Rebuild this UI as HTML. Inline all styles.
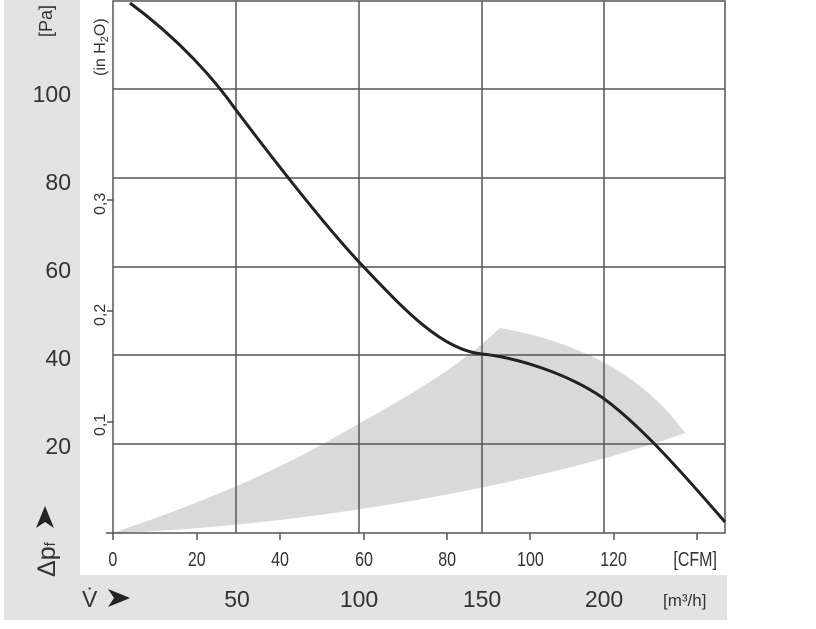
<!DOCTYPE html>
<html><head><style>
body{margin:0;background:#fff;}
svg text{font-family:"Liberation Sans",sans-serif;fill:#333;}
</style></head><body>
<svg width="816" height="624" viewBox="0 0 816 624">
<rect x="4" y="0" width="76" height="575" fill="#e3e3e3"/>
<rect x="4" y="575" width="723" height="45" fill="#e3e3e3"/>
<path d="M113,533 C180,510 260,480 330,440 C400,400 450,375 500,328 C570,340 640,370 685,433 C560,478 330,525 113,533 Z" fill="#d9d9d9"/>
<g stroke="#555" stroke-width="1.5" fill="none">
<path d="M236,1V533M359,1V533M482,1V533M604,1V533"/>
<path d="M113,89H725M113,178H725M113,267H725M113,355H725M113,444H725"/>
<rect x="113" y="1" width="612" height="532"/>
<path d="M106,533H113M113,533V540M197,533V540M280,533V540M364,533V540M447,533V540M530,533V540M614,533V540M697,533V540M107,200H113M107,311H113M107,422H113"/>
</g>
<path d="M130,3 C180,40 215,80 236,110 C270,155 320,220 359,262 C400,305 440,350 482,354 C520,358 570,375 603,398 C640,425 680,470 725,522" fill="none" stroke="#222" stroke-width="3"/>
<g font-size="23" text-anchor="end">
<text x="71" y="102">100</text><text x="71" y="190">80</text><text x="71" y="278">60</text><text x="71" y="366">40</text><text x="71" y="454">20</text>
</g>
<g font-size="20" text-anchor="middle" transform="scale(0.8,1)">
<text x="141" y="566">0</text><text x="246" y="566">20</text><text x="350" y="566">40</text><text x="455" y="566">60</text><text x="559" y="566">80</text><text x="663" y="566">100</text><text x="767" y="566">120</text><text x="869" y="566">[CFM]</text>
</g>
<g font-size="23" text-anchor="middle">
<text x="237" y="607">50</text><text x="359" y="607">100</text><text x="482" y="607">150</text><text x="604" y="607">200</text>
</g>
<text x="663" y="606" font-size="17">[m³/h]</text>
<text x="82" y="607" font-size="23">V̇</text>
<path d="M108,589 L130,598 L108,607 L114,598 Z" fill="#222"/>
<g font-size="16">
<text transform="translate(105,215) rotate(-90)">0,3</text>
<text transform="translate(105,326) rotate(-90)">0,2</text>
<text transform="translate(105,436) rotate(-90)">0,1</text>
<text transform="translate(105,76) rotate(-90)">(in H<tspan font-size="11" dy="3">2</tspan><tspan dy="-3">O)</tspan></text>
</g>
<text transform="translate(52,37) rotate(-90)" font-size="18">[Pa]</text>
<text transform="translate(55,577) rotate(-90)" font-size="25">Δp<tspan font-size="15">f</tspan></text>
<path d="M54,506 L45,528 L36,506 L45,512 Z" fill="#222" transform="rotate(180,45,517)"/>
</svg>
</body></html>
